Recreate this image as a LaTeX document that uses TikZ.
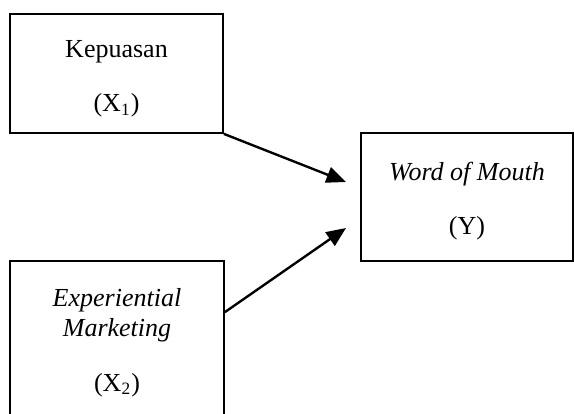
\documentclass[tikz,border=0pt]{standalone}
\usepackage{fontspec}
\setmainfont{Liberation Serif}
\usepackage{tikz}
\usetikzlibrary{arrows.meta,positioning,calc}
\tikzset{
  box/.style={draw, line width=0.8pt, align=center, inner sep=0pt, font=\fontsize{12}{14}\selectfont},
  fl/.style={-{Triangle[length=9pt,width=7.5pt]}, line width=1.1pt},
}
\newcommand{\toppad}{\rule{0pt}{12.5pt}}

\begin{document}
\begin{tikzpicture}[x=0.4615pt, y=-0.4615pt]
  \useasboundingbox (0,0) rectangle (574,413);
  % ---- variables ----
  \node[box, minimum width=213*0.4615pt, minimum height=119*0.4615pt] (kep) at (116.5,73.5)
    {\toppad Kepuasan\\[11pt](X\textsubscript{1})};
  \node[box, minimum width=214*0.4615pt, minimum height=154*0.4615pt] (exp) at (117,338)
    {\toppad\textit{Experiential}\\\textit{Marketing}\\[11pt](X\textsubscript{2})};
  \node[box, minimum width=212*0.4615pt, minimum height=128*0.4615pt] (wom) at (467,197)
    {\toppad\textit{Word of Mouth}\\[11pt](Y)};
  % ---- arrow ends ----
  \coordinate (t1) at (346,182);
  \coordinate (t2) at (346,228);
  \draw[fl] (kep.south east) -- (t1);
  \draw[fl] ($(exp.north east)+(0,52)$) -- (t2);
\end{tikzpicture}
\end{document}
